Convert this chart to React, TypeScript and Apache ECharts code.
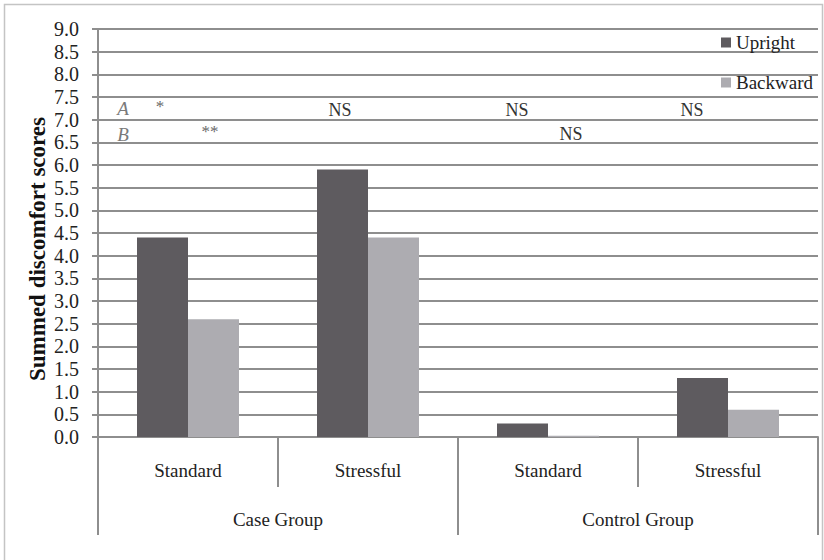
import React, { useEffect, useRef } from "react";
import * as echarts from "echarts";

const conditions = ["Standard", "Stressful", "Standard", "Stressful"];
const groups = ["Case Group", "Control Group"];
const upright = [4.4, 5.9, 0.3, 1.3];
const backward = [2.6, 4.4, 0.03, 0.6];
const seriesNames = ["Upright", "Backward"];
const yAxisTitle = "Summed discomfort scores";

const FONT = "Liberation Serif";

export default function App() {
  const ref = useRef<HTMLDivElement>(null);
  useEffect(() => {
    if (!ref.current) return;
    const chart = echarts.init(ref.current, null, { renderer: "svg" });
    const gridColor = "#8e8e8e";
    const txt = (x: number, y: number, text: string, size: number, fill: string, italic = false) => ({
      type: "text",
      x,
      y,
      style: {
        text,
        fontFamily: FONT,
        fontSize: size,
        fontStyle: italic ? "italic" : "normal",
        fill,
        align: "center",
        verticalAlign: "middle",
      },
    });
    chart.setOption({
      animation: false,
      backgroundColor: "#ffffff",
      textStyle: { fontFamily: FONT },
      grid: { left: 98, right: 6, top: 29, bottom: 123, containLabel: false },
      legend: {
        orient: "vertical",
        left: 716,
        top: 28,
        icon: "rect",
        itemWidth: 10,
        itemHeight: 10,
        itemGap: 21,
        data: seriesNames,
        textStyle: { fontFamily: FONT, fontSize: 19, color: "#222" },
      },
      xAxis: [
        {
          type: "category",
          data: conditions,
          position: "bottom",
          axisLine: { show: true, lineStyle: { color: gridColor, width: 2 } },
          axisTick: { show: true, interval: 0, length: 50, lineStyle: { color: gridColor, width: 2 } },
          axisLabel: { interval: 0, margin: 24, fontFamily: FONT, fontSize: 19, color: "#222" },
        },
        {
          type: "category",
          data: groups,
          position: "bottom",
          axisLine: { show: false },
          axisTick: { show: true, interval: 0, length: 98, lineStyle: { color: gridColor, width: 2 } },
          axisLabel: { interval: 0, margin: 73, fontFamily: FONT, fontSize: 19, color: "#222" },
        },
      ],
      yAxis: {
        type: "value",
        min: 0,
        max: 9,
        interval: 0.5,
        axisLine: { show: true, lineStyle: { color: gridColor, width: 2 } },
        axisTick: { show: true, length: 6, lineStyle: { color: gridColor, width: 2 } },
        axisLabel: {
          margin: 19,
          fontFamily: FONT,
          fontSize: 20,
          color: "#222",
          formatter: (v: number) => v.toFixed(1),
        },
        splitLine: { show: true, lineStyle: { color: gridColor, width: 2 } },
      },
      series: [
        {
          name: seriesNames[0],
          type: "bar",
          data: upright,
          barWidth: 51,
          barGap: "0%",
          itemStyle: { color: "#5e5b5f" },
        },
        {
          name: seriesNames[1],
          type: "bar",
          data: backward,
          barWidth: 51,
          barGap: "0%",
          itemStyle: { color: "#adacb1" },
        },
      ],
      graphic: [
        {
          type: "rect",
          shape: { x: 4.5, y: 4.5, width: 818, height: 600 },
          style: { fill: "none", stroke: "#c4c4c4", lineWidth: 1.5 },
          silent: true,
        },
        {
          type: "text",
          x: 37,
          y: 249,
          rotation: Math.PI / 2,
          style: {
            text: yAxisTitle,
            fontFamily: FONT,
            fontSize: 23,
            fontWeight: "bold",
            fill: "#111",
            align: "center",
            verticalAlign: "middle",
          },
        },
        txt(123, 108, "A", 19, "#7a7a7a", true),
        txt(123, 134, "B", 19, "#7a7a7a", true),
        txt(160, 106, "*", 17, "#6a6a6a"),
        txt(210, 131, "**", 17, "#6a6a6a"),
        txt(340, 110, "NS", 18, "#333"),
        txt(517, 110, "NS", 18, "#333"),
        txt(692, 110, "NS", 18, "#333"),
        txt(571, 134, "NS", 18, "#333"),
      ],
    });
    return () => chart.dispose();
  }, []);
  return (
    <div
      ref={ref}
      style={{ position: "fixed", left: 0, top: 0, width: 824, height: 560 }}
    />
  );
}
